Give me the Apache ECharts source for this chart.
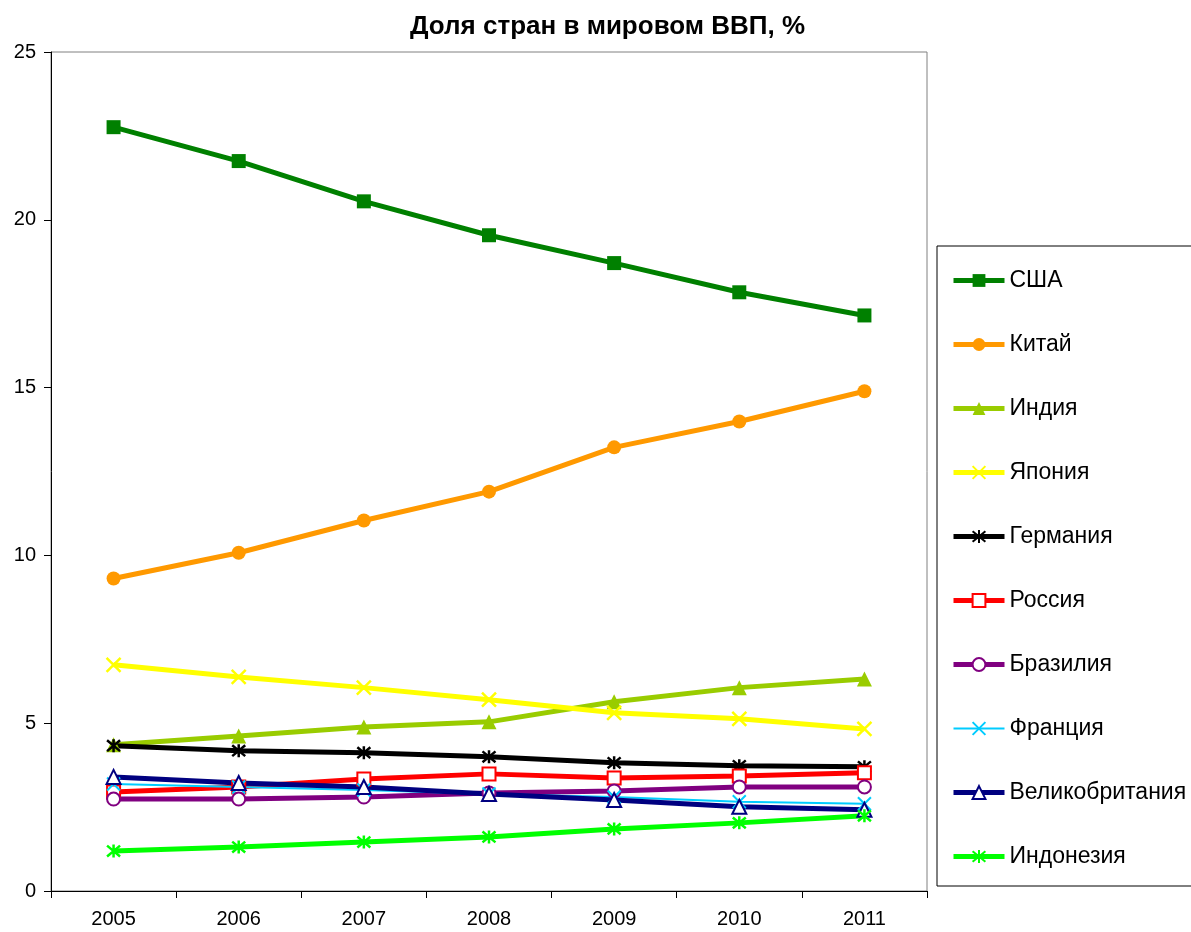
<!DOCTYPE html>
<html>
<head>
<meta charset="utf-8">
<script src="https://cdn.jsdelivr.net/npm/echarts@6/dist/echarts.min.js"></script>
<style>
	html, body { margin: 0; padding: 0; background: #fff; }
	#chart { width: 1191px; height: 932px; }
</style>
</head>
<body>
<div id="chart"></div>
<script>
// data
const years = ['2005', '2006', '2007', '2008', '2009', '2010', '2011'];
const yTicks = [0, 5, 10, 15, 20, 25];

const usa = [22.76, 21.75, 20.55, 19.54, 18.71, 17.84, 17.15];
const china = [9.31, 10.08, 11.04, 11.90, 13.22, 13.99, 14.89];
const india = [4.36, 4.62, 4.89, 5.04, 5.64, 6.06, 6.32];
const japan = [6.74, 6.38, 6.06, 5.70, 5.31, 5.13, 4.83];
const germany = [4.33, 4.18, 4.12, 4.00, 3.82, 3.73, 3.70];
const russia = [2.95, 3.10, 3.34, 3.49, 3.37, 3.43, 3.52];
const brazil = [2.74, 2.74, 2.80, 2.92, 2.98, 3.10, 3.10];
const france = [3.19, 3.10, 3.01, 2.89, 2.80, 2.66, 2.60];
const uk = [3.40, 3.22, 3.10, 2.89, 2.71, 2.51, 2.42];
const indonesia = [1.19, 1.31, 1.46, 1.61, 1.85, 2.03, 2.24];

const FONT = '"Liberation Sans", Arial, sans-serif';
const CROSS = 'path://M0,0L10,10M10,0L0,10';
const STAR = 'path://M0,0L10,10M10,0L0,10M5,-1L5,11';

function line(name, data, color, symbol, opts) {
	opts = opts || {};
	return {
		name,
		type: 'line',
		data,
		symbol,
		symbolSize: opts.size || 13,
		showAllSymbol: true,
		lineStyle: { color, width: opts.width || 5 },
		itemStyle: {
			color,
			borderColor: color,
			borderWidth: opts.border || 0,
		},
		emphasis: { disabled: true },
		animation: false,
	};
}

const series = [
	line('США', usa, '#008000', 'rect', { size: 14 }),
	line('Китай', china, '#FF9900', 'circle', { size: 14 }),
	line('Индия', india, '#99CC00', 'triangle', { size: 15 }),
	line('Япония', japan, '#FFFF00', CROSS, { size: 14, border: 2.5 }),
	line('Германия', germany, '#000000', STAR, { size: 13, border: 2.5 }),
	line('Россия', russia, '#FF0000', 'emptyRect', { size: 13, border: 2 }),
	line('Бразилия', brazil, '#800080', 'emptyCircle', { size: 13, border: 2 }),
	line('Франция', france, '#00CCFF', CROSS, { size: 13, border: 2, width: 2 }),
	line('Великобритания', uk, '#000080', 'emptyTriangle', { size: 14, border: 2 }),
	line('Индонезия', indonesia, '#00FF00', STAR, { size: 13, border: 2.5 }),
];

const chart = echarts.init(document.getElementById('chart'));

chart.setOption({
	backgroundColor: '#fff',
	textStyle: { fontFamily: FONT },
	title: {
		text: 'Доля стран в мировом ВВП, %',
		left: 405,
		top: 9,
		textStyle: { fontFamily: FONT, fontSize: 26, fontWeight: 'bold', color: '#000' },
	},
	grid: {
		left: 51,
		top: 52,
		right: 264,
		bottom: 41,
		show: true,
		borderColor: '#808080',
		borderWidth: 1,
		backgroundColor: '#fff',
	},
	legend: {
		orient: 'vertical',
		left: 937,
		top: 246,
		padding: [23, 40, 18, 14],
		itemWidth: 51,
		itemHeight: 16,
		itemGap: 41,
		borderColor: '#000',
		borderWidth: 1,
		textStyle: { fontFamily: FONT, fontSize: 23, color: '#000' },
		data: series.map(s => ({
			name: s.name,
			lineStyle: { width: s.lineStyle.width },
		})),
	},
	xAxis: {
		type: 'category',
		data: years,
		boundaryGap: true,
		axisLine: { lineStyle: { color: '#000', width: 1 } },
		axisTick: { show: true, length: 7, lineStyle: { color: '#000' } },
		axisLabel: { fontFamily: FONT, fontSize: 20, color: '#000', margin: 18 },
		splitLine: { show: false },
	},
	yAxis: {
		type: 'value',
		min: yTicks[0],
		max: yTicks[yTicks.length - 1],
		interval: 5,
		axisLine: { show: true, lineStyle: { color: '#000', width: 1 } },
		axisTick: { show: true, length: 7, lineStyle: { color: '#000' } },
		axisLabel: { fontFamily: FONT, fontSize: 20, color: '#000', margin: 15 },
		splitLine: { show: false },
	},
	series,
});
</script>
</body>
</html>
